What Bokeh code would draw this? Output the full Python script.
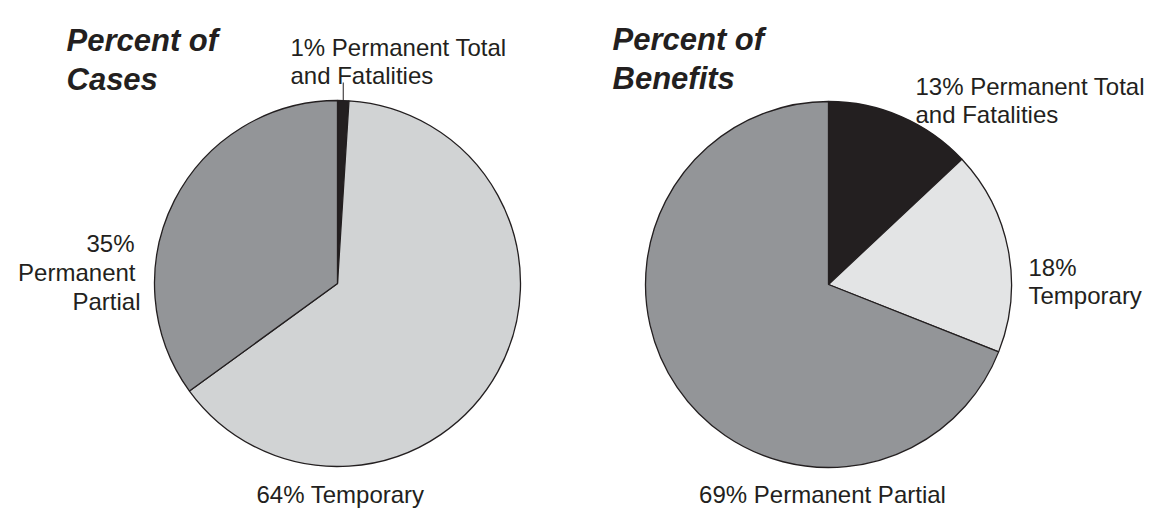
import math

from bokeh.core.properties import value
from bokeh.embed import file_html
from bokeh.models import Range1d
from bokeh.plotting import figure
from bokeh.resources import INLINE

# Workers' compensation claims split three ways
categories = ["Permanent Total and Fatalities", "Temporary", "Permanent Partial"]
cases_pct = [1, 64, 35]
benefits_pct = [13, 18, 69]

titles = [["Percent of", "Cases"], ["Percent of", "Benefits"]]

cases_colors = ["#231f20", "#d1d3d4", "#939598"]
benefits_colors = ["#231f20", "#e3e4e5", "#939598"]

W, H = 1151, 510
INK = "#231f20"
LABEL_FONT = value("Liberation Sans")
LABEL_SIZE = "24px"


def ypix(y):
    # page coordinates run downward; the plot's y axis runs upward
    return H - y


p = figure(width=W, height=H, output_backend="svg", toolbar_location=None,
           x_range=Range1d(0, W), y_range=Range1d(0, H),
           x_axis_location=None, y_axis_location=None,
           min_border=0, outline_line_color=None)
p.xgrid.visible = False
p.ygrid.visible = False
p.background_fill_color = "white"
p.border_fill_color = "white"


def draw_pie(cx, cy, r, pcts, colors):
    total = float(sum(pcts))
    starts, ends, mids = [], [], []
    cum = 0.0
    for v in pcts:
        a0 = math.pi / 2 - 2 * math.pi * (cum + v) / total
        a1 = math.pi / 2 - 2 * math.pi * cum / total
        starts.append(a0)
        ends.append(a1)
        mids.append((a0 + a1) / 2)
        cum += v
    p.wedge(x=[cx] * len(pcts), y=[ypix(cy)] * len(pcts), radius=r,
            start_angle=starts, end_angle=ends, fill_color=colors,
            line_color=INK, line_width=1.3)
    return mids


def draw_lines(lines, xs, y0, step, align, size=LABEL_SIZE, style="normal",
               font=LABEL_FONT):
    if not isinstance(xs, (list, tuple)):
        xs = [xs] * len(lines)
    ys = [ypix(y0 + i * step) for i in range(len(lines))]
    p.text(x=list(xs), y=ys, text=lines, text_font=font,
           text_font_size=size, text_font_style=style, text_color=INK,
           text_align=align, text_baseline="alphabetic")


R = 183
LEFT_C = (337, 283)
RIGHT_C = (828, 284)

mids_cases = draw_pie(LEFT_C[0], LEFT_C[1], R, cases_pct, cases_colors)
mids_ben = draw_pie(RIGHT_C[0], RIGHT_C[1], R, benefits_pct, benefits_colors)

# leader from the thin first slice up to its label
lx = LEFT_C[0] + R * math.cos(mids_cases[0])
p.line(x=[lx, lx], y=[ypix(LEFT_C[1] - R * math.sin(mids_cases[0])), ypix(82)],
       line_color=INK, line_width=1)

# titles
title_font = value("Liberation Sans")
draw_lines(titles[0], 66, 40, 38.5, "left", size="31px",
           style="bold italic", font=title_font)
draw_lines(titles[1], 612, 39, 38.5, "left", size="31px",
           style="bold italic", font=title_font)

# slice labels, Percent of Cases
draw_lines([f"{cases_pct[0]}% Permanent Total", "and Fatalities"],
           290, 47, 27.5, "left")
draw_lines([f"{cases_pct[1]}% Temporary"], 340, 494, 28, "center")
draw_lines([f"{cases_pct[2]}%", "Permanent", "Partial"], [134, 135, 140],
           243, 29, "right")

# slice labels, Percent of Benefits
draw_lines([f"{benefits_pct[0]}% Permanent Total", "and Fatalities"],
           915, 86, 27.5, "left")
draw_lines([f"{benefits_pct[1]}%", "Temporary"], 1028, 267, 28, "left")
draw_lines([f"{benefits_pct[2]}% Permanent Partial"], 822, 494, 28, "center")

open("out.html", "w").write(file_html(p, INLINE))
